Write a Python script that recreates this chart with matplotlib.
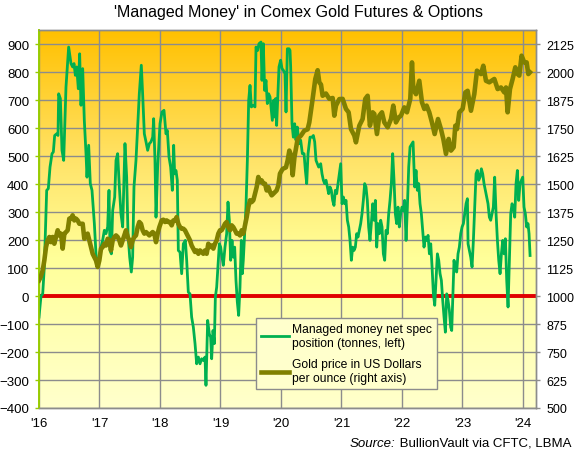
import matplotlib
matplotlib.use('Agg')
import matplotlib.pyplot as plt
import numpy as np
from matplotlib.colors import LinearSegmentedColormap
from matplotlib.lines import Line2D

plt.rcParams['font.family'] = ['Liberation Sans', 'DejaVu Sans']

# managed money net spec position (tonnes)
mm_year = [
    2016.000, 2016.033, 2016.061, 2016.088, 2016.127, 2016.154, 2016.182, 2016.215, 2016.237, 2016.259,
    2016.292, 2016.314, 2016.325, 2016.353, 2016.380, 2016.408, 2016.446, 2016.490, 2016.529, 2016.556,
    2016.579, 2016.601, 2016.623, 2016.650, 2016.672, 2016.694, 2016.722, 2016.749, 2016.777, 2016.793,
    2016.821, 2016.848, 2016.876, 2016.915, 2016.942, 2016.970, 2016.997, 2017.025, 2017.052, 2017.080,
    2017.107, 2017.135, 2017.157, 2017.174, 2017.196, 2017.218, 2017.251, 2017.273, 2017.300, 2017.328,
    2017.355, 2017.383, 2017.405, 2017.421, 2017.449, 2017.471, 2017.499, 2017.526, 2017.548, 2017.570,
    2017.603, 2017.631, 2017.658, 2017.691, 2017.713, 2017.741, 2017.769, 2017.796, 2017.824, 2017.851,
    2017.879, 2017.895, 2017.917, 2017.934, 2017.961, 2018.000, 2018.033, 2018.066, 2018.099, 2018.121,
    2018.149, 2018.176, 2018.204, 2018.226, 2018.242, 2018.264, 2018.286, 2018.303, 2018.331, 2018.358,
    2018.386, 2018.419, 2018.441, 2018.468, 2018.496, 2018.523, 2018.551, 2018.579, 2018.606, 2018.634,
    2018.661, 2018.689, 2018.716, 2018.744, 2018.760, 2018.788, 2018.815, 2018.837, 2018.854, 2018.876,
    2018.898, 2018.915, 2018.937, 2018.964, 2018.981, 2019.003, 2019.025, 2019.047, 2019.074, 2019.102,
    2019.124, 2019.146, 2019.168, 2019.190, 2019.212, 2019.234, 2019.256, 2019.278, 2019.300, 2019.322,
    2019.344, 2019.361, 2019.377, 2019.399, 2019.421, 2019.444, 2019.466, 2019.488, 2019.510, 2019.543,
    2019.570, 2019.587, 2019.614, 2019.636, 2019.669, 2019.686, 2019.708, 2019.730, 2019.752, 2019.774,
    2019.796, 2019.818, 2019.840, 2019.857, 2019.879, 2019.895, 2019.912, 2019.928, 2019.945, 2019.967,
    2019.994, 2020.017, 2020.039, 2020.066, 2020.083, 2020.105, 2020.133, 2020.149, 2020.160, 2020.182,
    2020.204, 2020.226, 2020.248, 2020.270, 2020.298, 2020.325, 2020.353, 2020.381, 2020.403, 2020.425,
    2020.447, 2020.480, 2020.513, 2020.535, 2020.557, 2020.579, 2020.601, 2020.623, 2020.656, 2020.678,
    2020.700, 2020.722, 2020.744, 2020.766, 2020.788, 2020.810, 2020.832, 2020.854, 2020.876, 2020.898,
    2020.920, 2020.943, 2020.965, 2020.987, 2021.009, 2021.031, 2021.053, 2021.075, 2021.097, 2021.119,
    2021.141, 2021.163, 2021.185, 2021.207, 2021.229, 2021.251, 2021.273, 2021.295, 2021.317, 2021.339,
    2021.361, 2021.383, 2021.405, 2021.427, 2021.449, 2021.471, 2021.493, 2021.516, 2021.538, 2021.560,
    2021.582, 2021.604, 2021.626, 2021.648, 2021.670, 2021.692, 2021.714, 2021.736, 2021.758, 2021.780,
    2021.802, 2021.824, 2021.846, 2021.868, 2021.890, 2021.912, 2021.934, 2021.956, 2021.978, 2022.000,
    2022.022, 2022.044, 2022.067, 2022.089, 2022.111, 2022.133, 2022.183, 2022.210, 2022.232, 2022.254,
    2022.276, 2022.298, 2022.320, 2022.342, 2022.364, 2022.387, 2022.409, 2022.431, 2022.453, 2022.475,
    2022.497, 2022.519, 2022.541, 2022.563, 2022.585, 2022.607, 2022.629, 2022.651, 2022.673, 2022.695,
    2022.717, 2022.739, 2022.761, 2022.783, 2022.805, 2022.822, 2022.838, 2022.860, 2022.882, 2022.904,
    2022.926, 2022.948, 2022.971, 2022.993, 2023.015, 2023.037, 2023.059, 2023.081, 2023.092, 2023.114,
    2023.136, 2023.158, 2023.180, 2023.202, 2023.224, 2023.246, 2023.268, 2023.290, 2023.312, 2023.334,
    2023.356, 2023.378, 2023.400, 2023.422, 2023.444, 2023.466, 2023.488, 2023.510, 2023.532, 2023.555,
    2023.577, 2023.599, 2023.621, 2023.643, 2023.665, 2023.687, 2023.709, 2023.731, 2023.753, 2023.775,
    2023.797, 2023.819, 2023.841, 2023.863, 2023.885, 2023.907, 2023.929, 2023.951, 2023.973, 2023.995,
    2024.017, 2024.039, 2024.061, 2024.083, 2024.100, 2024.117,
]
mm_tonnes = [
    -75, 0, 8, 104, 378, 384, 461, 509, 515, 574,
    580, 574, 723, 706, 521, 485, 747, 890, 831, 819,
    831, 789, 819, 741, 866, 682, 813, 628, 509, 425,
    539, 402, 378, 259, 151, 104, 139, 175, 199, 235,
    223, 247, 378, 163, 151, 306, 354, 485, 509, 390,
    294, 247, 425, 545, 425, 223, 139, 86, 139, 390,
    485, 604, 723, 825, 723, 580, 551, 521, 545, 551,
    568, 634, 485, 282, 461, 616, 658, 664, 580, 592,
    497, 461, 378, 539, 437, 449, 414, 163, 157, 80,
    187, 199, 128, 14, 8, -75, -111, -170, -242, -218,
    -242, -224, -230, -218, -319, -87, -135, -147, -224, -123,
    -170, -4, 32, 128, 187, 175, 139, 110, 175, 223,
    336, 271, 128, 199, 139, 175, 56, -21, -69, 32,
    199, 80, 128, 223, 318, 485, 700, 753, 676, 682,
    676, 890, 878, 902, 908, 771, 902, 735, 771, 688,
    723, 712, 664, 628, 700, 640, 706, 610, 700, 819,
    843, 813, 807, 795, 658, 884, 884, 878, 819, 616,
    568, 616, 557, 604, 545, 557, 509, 509, 449, 402,
    509, 568, 568, 574, 551, 485, 473, 461, 473, 437,
    414, 402, 414, 390, 366, 390, 378, 342, 324, 378,
    366, 402, 437, 473, 330, 354, 330, 342, 271, 247,
    199, 128, 175, 163, 175, 223, 211, 235, 259, 294,
    342, 402, 390, 342, 247, 199, 259, 330, 271, 342,
    175, 259, 223, 271, 247, 151, 128, 235, 223, 294,
    342, 402, 509, 414, 294, 259, 318, 247, 294, 318,
    306, 342, 199, 318, 461, 533, 551, 390, 449, 378,
    402, 330, 294, 235, 175, 211, 199, 217, 151, 187,
    104, 8, -33, 56, 151, 128, 80, 56, -15, -75,
    -129, 8, -15, -51, -111, -123, -15, 128, 92, 86,
    151, 175, 223, 247, 259, 294, 330, 348, 187, 163,
    139, 104, 199, 318, 437, 449, 414, 425, 455, 437,
    402, 378, 354, 330, 282, 271, 294, 318, 425, 294,
    199, 128, 80, 151, 199, 151, 205, 56, -39, 128,
    294, 330, 318, 282, 402, 449, 342, 402, 414, 425,
    318, 294, 247, 259, 223, 145,
]

# gold price, US$ per ounce (right axis)
gold_year = [
    2016.000, 2016.028, 2016.061, 2016.088, 2016.116, 2016.143, 2016.171, 2016.198, 2016.226, 2016.253,
    2016.281, 2016.309, 2016.336, 2016.364, 2016.391, 2016.419, 2016.446, 2016.474, 2016.501, 2016.529,
    2016.556, 2016.584, 2016.612, 2016.639, 2016.667, 2016.694, 2016.722, 2016.749, 2016.777, 2016.804,
    2016.832, 2016.860, 2016.887, 2016.915, 2016.942, 2016.970, 2016.997, 2017.025, 2017.052, 2017.080,
    2017.107, 2017.135, 2017.163, 2017.190, 2017.218, 2017.245, 2017.273, 2017.300, 2017.328, 2017.355,
    2017.383, 2017.410, 2017.438, 2017.466, 2017.493, 2017.521, 2017.548, 2017.576, 2017.603, 2017.631,
    2017.658, 2017.686, 2017.713, 2017.741, 2017.769, 2017.796, 2017.824, 2017.851, 2017.879, 2017.906,
    2017.934, 2017.961, 2017.989, 2018.028, 2018.055, 2018.083, 2018.110, 2018.138, 2018.165, 2018.193,
    2018.220, 2018.248, 2018.275, 2018.303, 2018.331, 2018.358, 2018.386, 2018.413, 2018.441, 2018.468,
    2018.496, 2018.523, 2018.551, 2018.579, 2018.606, 2018.634, 2018.661, 2018.689, 2018.716, 2018.744,
    2018.771, 2018.799, 2018.826, 2018.854, 2018.882, 2018.909, 2018.937, 2018.964, 2018.992, 2019.019,
    2019.047, 2019.074, 2019.102, 2019.129, 2019.157, 2019.185, 2019.212, 2019.240, 2019.267, 2019.295,
    2019.322, 2019.350, 2019.377, 2019.405, 2019.433, 2019.460, 2019.488, 2019.515, 2019.543, 2019.570,
    2019.598, 2019.625, 2019.653, 2019.680, 2019.708, 2019.736, 2019.763, 2019.791, 2019.818, 2019.846,
    2019.873, 2019.901, 2019.928, 2019.956, 2019.983, 2020.027, 2020.082, 2020.110, 2020.138, 2020.165,
    2020.193, 2020.222, 2020.275, 2020.330, 2020.385, 2020.440, 2020.468, 2020.523, 2020.567, 2020.606,
    2020.633, 2020.661, 2020.688, 2020.743, 2020.799, 2020.854, 2020.881, 2020.909, 2020.964, 2021.019,
    2021.074, 2021.118, 2021.157, 2021.212, 2021.239, 2021.294, 2021.349, 2021.393, 2021.432, 2021.470,
    2021.515, 2021.542, 2021.586, 2021.625, 2021.669, 2021.708, 2021.763, 2021.818, 2021.856, 2021.900,
    2021.945, 2021.983, 2022.038, 2022.082, 2022.137, 2022.165, 2022.187, 2022.231, 2022.286, 2022.330,
    2022.369, 2022.407, 2022.451, 2022.495, 2022.540, 2022.595, 2022.644, 2022.683, 2022.727, 2022.771,
    2022.810, 2022.854, 2022.881, 2022.909, 2022.947, 2023.002, 2023.047, 2023.085, 2023.140, 2023.195,
    2023.239, 2023.305, 2023.344, 2023.388, 2023.443, 2023.526, 2023.581, 2023.636, 2023.691, 2023.719,
    2023.746, 2023.785, 2023.829, 2023.873, 2023.911, 2023.939, 2023.977, 2024.021, 2024.060, 2024.088,
    2024.115,
]
gold_usd = [
    1070, 1085, 1115, 1159, 1219, 1249, 1264, 1241, 1264, 1234,
    1264, 1294, 1271, 1279, 1212, 1279, 1286, 1294, 1346, 1346,
    1361, 1338, 1346, 1338, 1323, 1323, 1323, 1256, 1271, 1279,
    1249, 1219, 1189, 1174, 1159, 1130, 1159, 1212, 1219, 1234,
    1226, 1256, 1249, 1204, 1249, 1264, 1271, 1264, 1249, 1226,
    1249, 1271, 1294, 1264, 1249, 1219, 1249, 1264, 1271, 1308,
    1331, 1323, 1294, 1279, 1286, 1279, 1271, 1279, 1286, 1279,
    1241, 1279, 1308, 1338, 1341, 1331, 1338, 1331, 1331, 1316,
    1338, 1338, 1353, 1323, 1308, 1301, 1301, 1294, 1279, 1264,
    1249, 1226, 1212, 1197, 1204, 1189, 1204, 1197, 1189, 1204,
    1189, 1234, 1219, 1226, 1212, 1234, 1249, 1279, 1294, 1294,
    1308, 1323, 1331, 1308, 1294, 1316, 1308, 1294, 1279, 1279,
    1271, 1294, 1279, 1316, 1353, 1398, 1428, 1420, 1428, 1457,
    1487, 1532, 1510, 1517, 1502, 1502, 1472, 1487, 1465, 1450,
    1457, 1465, 1472, 1495, 1547, 1568, 1575, 1606, 1650, 1630,
    1540, 1620, 1702, 1717, 1739, 1745, 1776, 1881, 1970, 2009,
    1955, 1945, 1895, 1905, 1881, 1885, 1806, 1851, 1880, 1881,
    1836, 1821, 1746, 1717, 1687, 1761, 1791, 1881, 1895, 1761,
    1821, 1814, 1724, 1806, 1821, 1776, 1754, 1791, 1851, 1776,
    1798, 1806, 1843, 1821, 1881, 2044, 1925, 1902, 1962, 1866,
    1836, 1851, 1821, 1776, 1724, 1791, 1746, 1702, 1635, 1702,
    1650, 1665, 1761, 1746, 1821, 1836, 1910, 1917, 1828, 1902,
    2007, 1992, 2029, 1962, 1955, 1970, 1925, 1932, 1910, 1932,
    1821, 1925, 1970, 2022, 1992, 1985, 2074, 2044, 2044, 1992,
    2000,
]

year_ticks = [2016, 2017, 2018, 2019, 2020, 2021, 2022, 2023, 2024]
year_labels = ["'16", "'17", "'18", "'19", "'20", "'21", "'22", "'23", "'24"]
left_ticks = list(range(-400, 901, 100))
right_ticks = [500, 625, 750, 875, 1000, 1125, 1250, 1375, 1500, 1625, 1750, 1875, 2000, 2125]

x_lo, x_hi = 2016.0, 2024.215
y_lo, y_hi = -400, 951

fig = plt.figure(figsize=(5.76, 4.56), dpi=100)
ax = fig.add_axes([39 / 576, 1 - 409 / 456, 497 / 576, 378 / 456])

# background gradient (orange at top to pale yellow at bottom)
cmap = LinearSegmentedColormap.from_list(
    'bg', [(0.0, '#FFC000'), (0.35, '#FFE46A'), (0.6, '#FFFF99'), (1.0, '#FFFFCC')])
grad = np.linspace(0, 1, 256).reshape(-1, 1)
ax.imshow(grad, extent=[x_lo, x_hi, y_lo, y_hi], aspect='auto', cmap=cmap,
          origin='upper', zorder=0, interpolation='bilinear')

ax.set_xlim(x_lo, x_hi)
ax.set_ylim(y_lo, y_hi)
for v in left_ticks:
    ax.axhline(v, color='#8C8C8C', lw=1, zorder=1)
for t in year_ticks:
    ax.axvline(t, color='#8C8C8C', lw=1, zorder=1)
ax.axhline(0, color='#E00000', lw=2.8, zorder=2)

ax.plot(mm_year, mm_tonnes, color='#00B050', lw=2, zorder=3, solid_joinstyle='round')

ax2 = ax.twinx()
ax2.set_ylim(500 + 1.25 * (y_lo + 400), 1000 + 1.25 * y_hi)
ax2.plot(gold_year, gold_usd, color='#808000', lw=3.3, zorder=4, solid_joinstyle='round')
ax2.set_xlim(x_lo, x_hi)

ax.set_xticks(year_ticks)
ax.set_xticklabels(year_labels)
ax.set_yticks(left_ticks)
ax2.set_yticks(right_ticks)
ax.tick_params(axis='x', length=0, pad=6.5, labelsize=9.5)
ax.tick_params(axis='y', length=3, width=1, color='#99CC00', pad=4, labelsize=9.5)
ax2.tick_params(axis='y', length=3, width=1, color='#8C8C8C', pad=4.5, labelsize=9)

for a in (ax, ax2):
    for side in ('top', 'right', 'bottom'):
        a.spines[side].set_color('#8C8C8C')
        a.spines[side].set_linewidth(1)
    a.spines['left'].set_color('#99CC00')
    a.spines['left'].set_linewidth(1.2)

handles = [Line2D([], [], color='#00B050', lw=2),
           Line2D([], [], color='#808000', lw=3.3)]
labels = ['Managed money net spec\nposition (tonnes, left)',
          'Gold price in US Dollars\nper ounce (right axis)']
leg = ax2.legend(handles, labels, loc='upper left', bbox_to_anchor=(0.4366, 0.238),
                 fontsize=8.7, frameon=True, fancybox=False, framealpha=1,
                 facecolor='#FFFFCC', edgecolor='#8C8C8C', borderaxespad=0,
                 borderpad=0.4, handlelength=2.3, handletextpad=0.3, labelspacing=0.8)
leg.get_frame().set_linewidth(1)

fig.text(298 / 576, 1 - 13 / 456, "'Managed Money' in Comex Gold Futures & Options",
         ha='center', va='center', fontsize=11.5)

# source line: italic "Source:" followed by plain text
src = fig.text(571 / 576, 1 - 444 / 456, ' BullionVault via CFTC, LBMA',
               ha='right', va='center', fontsize=9.5)
fig.canvas.draw()
bb = src.get_window_extent(renderer=fig.canvas.get_renderer())
fig.text(bb.x0 / fig.bbox.width, 1 - 444 / 456, 'Source:', ha='right', va='center',
         fontsize=9.5, style='italic')

fig.savefig('out.png', dpi=100)
